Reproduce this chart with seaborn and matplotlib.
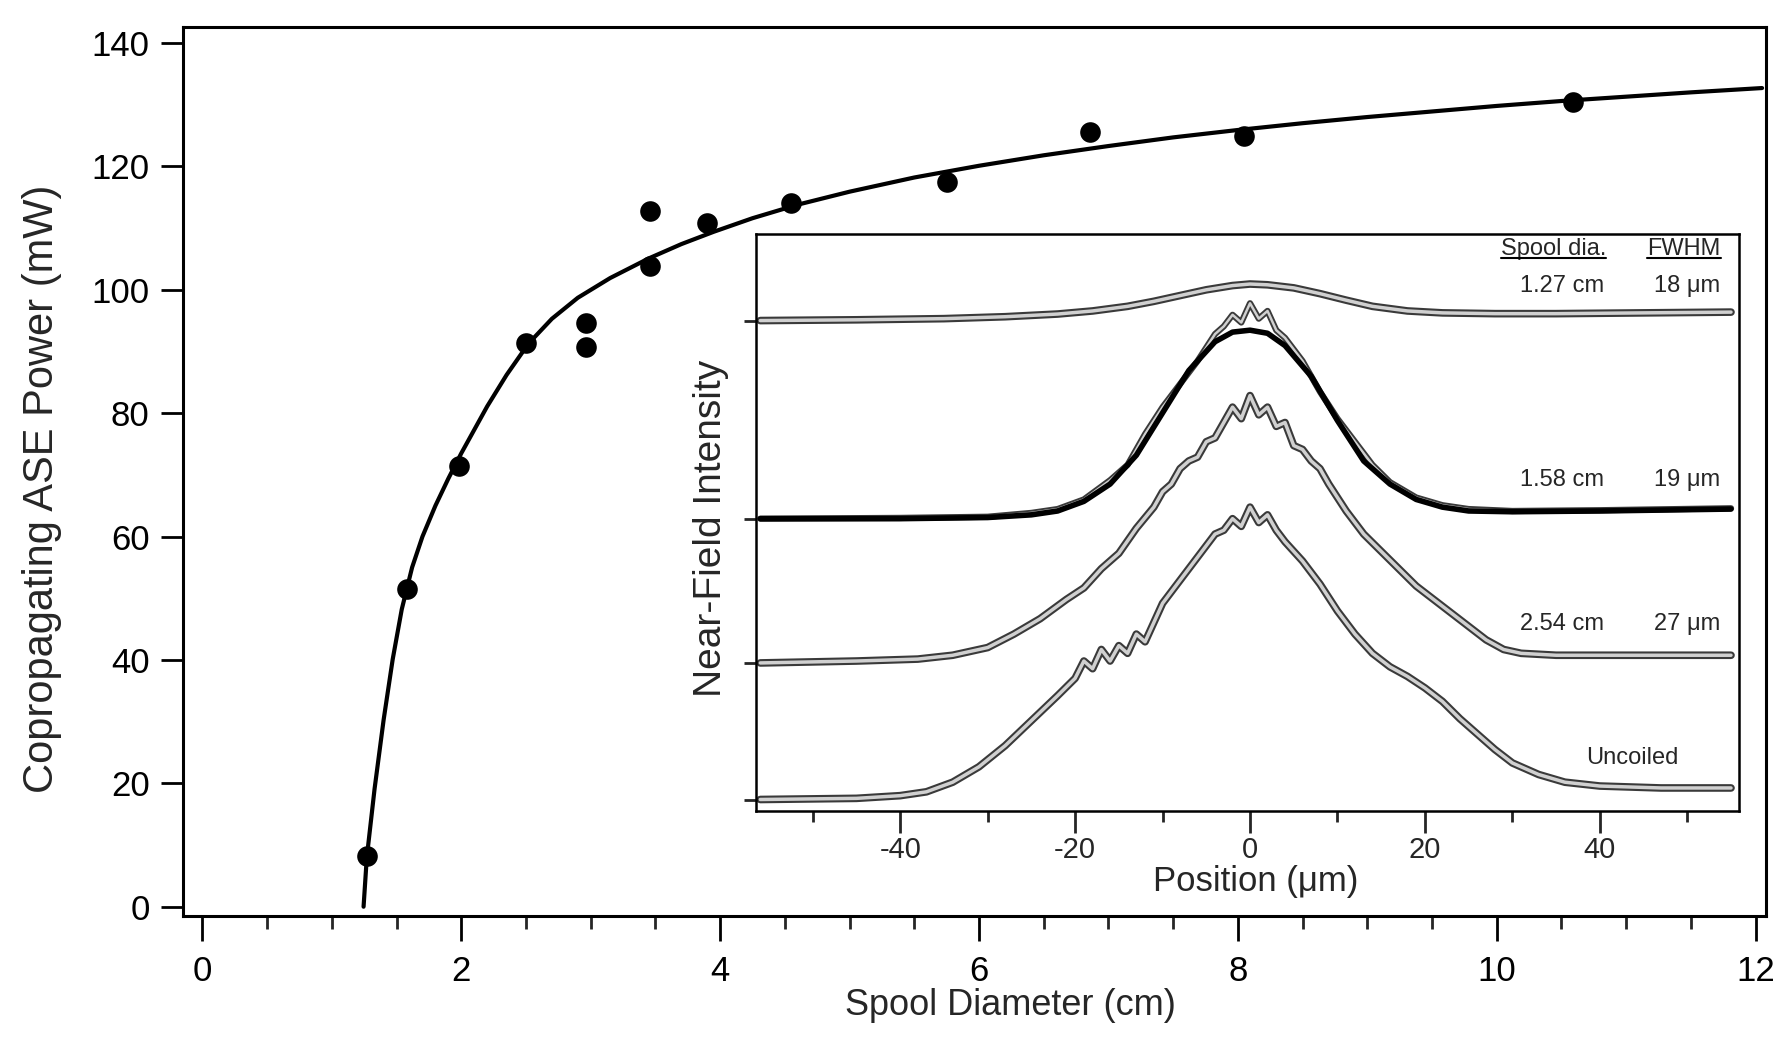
import matplotlib
matplotlib.use("Agg")
import matplotlib.pyplot as plt
import seaborn as sns
from matplotlib.ticker import MultipleLocator
from matplotlib.lines import Line2D

# ---- main panel: copropagating ASE power vs spool diameter ----
spool_cm = [1.27, 1.58, 1.98, 2.50, 2.96, 2.96, 3.46, 3.46, 3.90, 4.55, 5.75, 6.86, 8.05, 10.59]
power_mw = [8.3, 51.5, 71.4, 91.4, 94.6, 90.7, 112.8, 103.8, 110.9, 114.0, 117.4, 125.6, 124.9, 130.4]

# fitted curve
fit_x = [1.245, 1.27, 1.33, 1.40, 1.47, 1.54, 1.62, 1.70, 1.80, 1.90, 2.00, 2.20, 2.35, 2.52,
         2.70, 2.90, 3.15, 3.45, 3.70, 3.95, 4.25, 4.60, 5.00, 5.50, 6.00, 6.50, 7.00, 7.50,
         8.00, 8.50, 9.00, 9.50, 10.00, 10.50, 11.00, 11.50, 12.05]
fit_y = [0, 8, 19.1, 30.3, 40.1, 48.2, 55.0, 60.0, 65.0, 69.4, 73.5, 81.1, 86.2, 91.3,
         95.3, 98.7, 101.9, 105.1, 107.4, 109.4, 111.6, 113.8, 115.9, 118.2, 120.1, 121.8, 123.3, 124.7,
         125.9, 127.0, 128.0, 128.9, 129.8, 130.6, 131.3, 132.0, 132.7]

# ---- inset: near-field profiles (position in um, offset intensity in a.u.) ----
x_127 = [-56, -45, -35, -28, -22, -18, -14, -11, -8, -5, -2, 0, 2, 5, 8, 11, 14, 18, 22, 28, 35, 45, 55]
i_127 = [12.75, 12.77, 12.8, 12.85, 12.92, 13.0, 13.12, 13.25, 13.4, 13.55, 13.66, 13.7, 13.68,
         13.6, 13.45, 13.28, 13.12, 13.0, 12.95, 12.93, 12.93, 12.95, 12.97]

x_158 = [-56, -40, -30, -25, -22, -19, -16, -14, -12, -10, -8, -6, -4, -3, -2, -1, 0, 1, 2, 3, 4,
         6, 8, 10, 12, 14, 16, 19, 22, 25, 30, 40, 55]
i_158 = [7.6, 7.62, 7.65, 7.75, 7.85, 8.1, 8.6, 9.0, 9.8, 10.5, 11.1, 11.7, 12.4, 12.6, 12.9, 12.7,
         13.2, 12.8, 13.0, 12.5, 12.3, 11.7, 10.9, 10.2, 9.6, 9.0, 8.55, 8.15, 7.95, 7.85, 7.8, 7.82, 7.87]

# gaussian fit drawn through the 1.58 cm profile
fit158_x = [-56, -40, -30, -25, -22, -19, -16, -13, -10, -7, -4, -2, 0, 2, 4, 7, 10, 13, 16, 19, 22,
            25, 30, 40, 55]
fit158_i = [7.6, 7.6, 7.63, 7.7, 7.8, 8.05, 8.5, 9.25, 10.35, 11.45, 12.2, 12.45, 12.5, 12.42, 12.1,
            11.3, 10.15, 9.1, 8.5, 8.1, 7.9, 7.8, 7.78, 7.8, 7.85]

x_254 = [-56, -45, -38, -34, -30, -27, -24, -21, -19, -17, -15, -13, -11, -10, -9, -8, -7, -6, -5,
         -4, -3, -2, -1, 0, 1, 2, 3, 4, 5, 6, 7, 8, 9, 11, 13, 15, 17, 19, 21, 23, 25, 27, 29, 31,
         35, 45, 55]
i_254 = [3.85, 3.9, 3.95, 4.05, 4.25, 4.6, 5.0, 5.5, 5.8, 6.3, 6.7, 7.35, 7.9, 8.3, 8.5, 8.9, 9.1,
         9.2, 9.6, 9.7, 10.1, 10.5, 10.2, 10.8, 10.3, 10.5, 10.0, 10.1, 9.5, 9.4, 9.1, 8.9, 8.5,
         7.8, 7.2, 6.75, 6.3, 5.85, 5.5, 5.15, 4.8, 4.45, 4.2, 4.1, 4.05, 4.05, 4.05]

x_unc = [-56, -45, -40, -37, -34, -31, -28, -25, -22, -20, -19, -18, -17, -16, -15, -14, -13, -12,
         -10, -8, -6, -4, -3, -2, -1, 0, 1, 2, 3, 4, 6, 8, 10, 12, 14, 16, 18, 20, 22, 24, 26, 28,
         30, 33, 36, 40, 47, 55]
i_unc = [0.3, 0.33, 0.4, 0.5, 0.75, 1.15, 1.7, 2.35, 3.0, 3.45, 3.9, 3.7, 4.2, 3.9, 4.3, 4.1, 4.6,
         4.4, 5.4, 6.0, 6.6, 7.2, 7.3, 7.6, 7.4, 7.9, 7.5, 7.7, 7.3, 7.0, 6.5, 5.9, 5.2, 4.6, 4.1,
         3.75, 3.5, 3.2, 2.85, 2.4, 2.0, 1.6, 1.25, 0.95, 0.75, 0.65, 0.6, 0.6]

baselines = [0.3, 3.85, 7.6, 12.75]
spool_labels = ["1.27 cm", "1.58 cm", "2.54 cm", "Uncoiled"]
fwhm_labels = ["18 \u03bcm", "19 \u03bcm", "27 \u03bcm", ""]
label_y = [13.64, 8.6, 4.85, 1.39]

sns.set_style("ticks")
plt.rcParams["font.family"] = ["Liberation Sans", "DejaVu Sans"]
plt.rcParams["axes.unicode_minus"] = False

fig = plt.figure(figsize=(17.82, 10.41), dpi=100)
ax = fig.add_axes([0.1027, 0.1201, 0.8883, 0.8540])

sns.lineplot(x=fit_x, y=fit_y, ax=ax, color="black", lw=3.0, estimator=None)
sns.scatterplot(x=spool_cm, y=power_mw, ax=ax, color="black", s=220,
                edgecolor="black", linewidth=0, zorder=3)

ax.set_xlim(-0.15, 12.08)
ax.set_ylim(-1.5, 142.6)
ax.xaxis.set_major_locator(MultipleLocator(2))
ax.xaxis.set_minor_locator(MultipleLocator(0.5))
ax.set_yticks(range(0, 141, 20))
ax.tick_params(axis="both", which="major", direction="out", width=2, labelsize=25,
               colors="black")
ax.tick_params(axis="x", which="major", length=18, pad=10)
ax.tick_params(axis="x", which="minor", length=9, width=2)
ax.tick_params(axis="y", which="major", length=16, pad=8)
for sp in ax.spines.values():
    sp.set_linewidth(2.2)
    sp.set_color("black")
ax.set_xlabel("Spool Diameter (cm)", fontsize=26, va="center")
ax.xaxis.set_label_coords(0.523, -0.101)
ax.set_ylabel("Copropagating ASE Power (mW)", fontsize=30, va="center")
ax.yaxis.set_label_coords(-0.0891, 0.480)

# ---- inset ----
ax_in = fig.add_axes([0.4242, 0.2209, 0.5516, 0.5543])
ax_in.set_facecolor("white")


def hollow(xs, ys, outer=5.5, inner=2.5):
    sns.lineplot(x=xs, y=ys, ax=ax_in, color="#3a3a3a", lw=outer, estimator=None)
    sns.lineplot(x=xs, y=ys, ax=ax_in, color="#d0d0d0", lw=inner, estimator=None)


hollow(x_127, i_127)
hollow(x_158, i_158, outer=4.5, inner=1.8)
sns.lineplot(x=fit158_x, y=fit158_i, ax=ax_in, color="black", lw=4.0, estimator=None)
hollow(x_254, i_254)
hollow(x_unc, i_unc)

ax_in.set_xlim(-56.5, 55.9)
ax_in.set_ylim(0, 15)
ax_in.xaxis.set_major_locator(MultipleLocator(20))
ax_in.xaxis.set_minor_locator(MultipleLocator(10))
ax_in.set_yticks(baselines)
ax_in.set_yticklabels([])
ax_in.tick_params(axis="x", which="major", direction="out", length=16, width=2,
                  labelsize=21, pad=2)
ax_in.tick_params(axis="x", which="minor", direction="out", length=8, width=2)
ax_in.tick_params(axis="y", direction="out", length=9, width=2)
for sp in ax_in.spines.values():
    sp.set_linewidth(1.8)
    sp.set_color("black")

ax_in.set_xlabel("Position (\u03bcm)", fontsize=25, va="center")
ax_in.xaxis.set_label_coords(0.5085, -0.122)
ax_in.set_ylabel("Near-Field Intensity", fontsize=28, va="center")
ax_in.yaxis.set_label_coords(-0.046, 0.49)

headers = [ax_in.text(40.7, 14.6, "Spool dia.", fontsize=17, ha="right", va="center"),
           ax_in.text(53.8, 14.6, "FWHM", fontsize=17, ha="right", va="center")]
for name, fw, yy in zip(spool_labels, fwhm_labels, label_y):
    if name == "Uncoiled":
        ax_in.text(49.0, yy, name, fontsize=17, ha="right", va="center")
    else:
        ax_in.text(40.5, yy, name, fontsize=17, ha="right", va="center")
        ax_in.text(53.8, yy, fw, fontsize=17, ha="right", va="center")

# underline the two column headers
fig.canvas.draw()
inv = fig.transFigure.inverted()
for t in headers:
    bb = t.get_window_extent().transformed(inv)
    fig.add_artist(Line2D([bb.x0, bb.x1], [bb.y0 + 0.002, bb.y0 + 0.002],
                          color="black", lw=1.5, transform=fig.transFigure))

fig.savefig("out.png", dpi=100)
